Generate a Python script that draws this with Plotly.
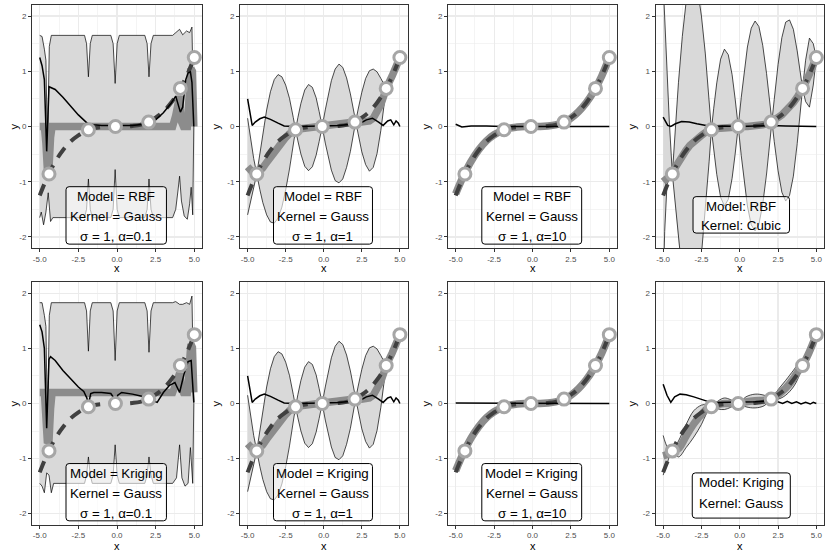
import plotly.graph_objects as go

W, H = 826, 554

# ---------------- data ----------------
PTS_X = [-4.4, -1.85, -0.1, 2.05, 4.1, 5.0]
PTS_Y = [-0.86, -0.06, 0.0, 0.08, 0.69, 1.25]

TRUE_X = [-5.0, -4.5, -4.0, -3.5, -3.0, -2.5, -2.0, -1.5, -1.0, -0.5, 0.0,
          0.5, 1.0, 1.5, 2.0, 2.5, 3.0, 3.5, 4.0, 4.5, 5.0]
TRUE_Y = [-1.25, -0.91, -0.64, -0.43, -0.27, -0.16, -0.08, -0.03, -0.01, 0.0, 0.0,
          0.0, 0.01, 0.03, 0.08, 0.16, 0.27, 0.43, 0.64, 0.91, 1.25]

# RBF, Gauss, alpha = 0.1
R01_UP_X = [-5.0, -4.85, -4.7, -4.6, -4.5, -4.38, -4.25, -2.1, -1.97, -1.85, -1.73, -1.6,
            -0.4, -0.25, -0.12, 0.01, 0.15, 1.8, 1.95, 2.07, 2.2, 2.35,
            3.6, 3.8, 4.05, 4.25, 4.5, 4.7, 4.85, 4.97]
R01_UP_Y = [1.65, 1.63, 1.4, 1.2, -0.45, 1.45, 1.65, 1.65, 1.5, 0.9, 1.5, 1.65,
            1.65, 1.5, 0.78, 1.5, 1.65, 1.65, 1.5, 0.9, 1.5, 1.65,
            1.65, 1.7, 1.76, 1.66, 1.73, 1.7, 1.8, 0.0]
R01_LO_X = [-5.0, -4.9, -4.75, -4.6, -4.45, -4.3, -4.15, -2.1, -1.97, -1.85, -1.73, -1.6,
            -0.4, -0.25, -0.12, 0.01, 0.15, 1.8, 1.95, 2.07, 2.2, 2.35,
            3.6, 3.8, 3.95, 4.05, 4.17, 4.35, 4.55, 4.7, 4.8, 4.9, 4.97]
R01_LO_Y = [-1.65, -1.55, -1.78, -1.55, -1.2, -1.72, -1.65, -1.65, -1.5, -0.95, -1.5, -1.65,
            -1.65, -1.5, -0.78, -1.5, -1.65, -1.65, -1.5, -0.95, -1.5, -1.65,
            -1.65, -1.5, -1.15, -0.9, -1.35, -1.62, -1.68, -1.4, -1.1, -1.6, 0.0]
R01_MEAN_X = [-5.0, -4.7, -4.6, -4.5, -4.4, -4.3, -4.2, -1.95, -1.85, -1.75, 3.6, 3.8,
              3.95, 4.05, 4.15, 4.3, 4.55, 4.65, 4.78, 4.88, 4.97]
R01_MEAN_Y = [0.0, 0.0, -0.3, -0.8, -0.75, -0.2, 0.0, 0.0, -0.05, 0.0, 0.0, 0.2,
              0.45, 0.55, 0.1, 0.0, 0.0, 0.6, 1.05, 1.0, 0.0]
R01_ERR_X = [-5.0, -4.85, -4.7, -4.55, -4.4, -4.25, -4.0, -3.5, -3.0, -2.5, -2.0, -1.85,
             -1.5, -1.0, 0.0, 1.0, 2.0, 2.5, 3.0, 3.5, 3.8, 3.95, 4.1, 4.25, 4.45,
             4.6, 4.75, 4.85, 4.97]
R01_ERR_Y = [1.25, 1.1, 0.85, -0.45, 0.72, 0.7, 0.67, 0.53, 0.37, 0.21, 0.08, 0.04,
             0.03, 0.02, 0.02, 0.02, 0.05, 0.12, 0.25, 0.42, 0.55, 0.4, 0.26, 0.35, 0.85,
             0.97, 0.99, 0.8, 0.0]

# Kriging, Gauss, alpha = 0.1
K01_UP_X = [-5.0, -4.85, -4.7, -4.6, -4.5, -4.38, -4.25, -2.1, -1.97, -1.85, -1.73, -1.6,
            -0.4, -0.25, -0.12, 0.01, 0.15, 1.8, 1.95, 2.07, 2.2, 2.35,
            3.6, 3.8, 4.05, 4.25, 4.5, 4.7, 4.85, 4.97]
K01_UP_Y = [1.83, 1.83, 1.6, 1.4, -0.45, 1.6, 1.83, 1.83, 1.68, 0.95, 1.68, 1.83,
            1.83, 1.68, 0.78, 1.68, 1.83, 1.83, 1.68, 0.93, 1.68, 1.83,
            1.83, 1.85, 1.8, 1.8, 1.83, 1.8, 1.95, 0.0]
K01_LO_X = [-5.0, -4.85, -4.7, -4.55, -4.4, -4.25, -4.1, -2.1, -1.97, -1.85, -1.73, -1.6,
            -0.4, -0.25, -0.12, 0.01, 0.15, 1.8, 1.95, 2.07, 2.2, 2.35,
            3.6, 3.85, 4.05, 4.2, 4.4, 4.6, 4.75, 4.9, 4.97]
K01_LO_Y = [-1.45, -1.5, -1.62, -1.26, -1.3, -1.62, -1.45, -1.45, -1.3, -0.97, -1.3, -1.45,
            -1.45, -1.3, -0.75, -1.3, -1.45, -1.45, -1.3, -0.97, -1.3, -1.45,
            -1.45, -1.35, -0.75, -1.35, -1.5, -1.45, -0.8, -1.45, 0.0]
K01_MEAN_X = [-5.0, -4.7, -4.6, -4.5, -4.4, -4.3, -4.2, -1.95, -1.85, -1.75, 3.6, 3.8,
              3.95, 4.05, 4.15, 4.3, 4.55, 4.65, 4.78, 4.88, 4.97]
K01_MEAN_Y = [0.2, 0.2, -0.25, -0.72, -0.68, -0.1, 0.2, 0.2, 0.15, 0.2, 0.2, 0.35,
              0.52, 0.55, 0.3, 0.2, 0.2, 0.65, 1.08, 1.02, 0.2]
K01_ERR_X = [-5.0, -4.85, -4.7, -4.55, -4.4, -4.3, -4.0, -3.5, -3.0, -2.5,
             -2.15, -1.95, -1.85, -1.7, -1.5, -1.0, -0.4, -0.2, -0.1, 0.05,
             0.3, 1.0, 1.6, 2.05, 2.3, 2.6, 3.0, 3.4, 3.75, 4.05,
             4.35, 4.6, 4.8, 4.97]
K01_ERR_Y = [1.43, 1.3, 1.0, -0.45, 0.8, 0.85, 0.78, 0.6, 0.45, 0.3,
             0.22, 0.1, -0.02, 0.18, 0.2, 0.2, 0.18, 0.1, 0.02, 0.15,
             0.2, 0.17, 0.13, 0.08, 0.05, 0.02, 0.2, 0.33, 0.38, 0.2,
             0.55, 0.76, 0.78, 0.02]

# Gauss, alpha = 1 (RBF and Kriging look the same)
G1_X = [-5.0, -4.8, -4.6, -4.4, -4.2, -4.0, -3.75, -3.5, -3.25, -3.0,
        -2.75, -2.5, -2.25, -2.0, -1.85, -1.7, -1.5, -1.25, -1.0, -0.75,
        -0.5, -0.3, -0.1, 0.1, 0.3, 0.5, 0.75, 1.0, 1.25, 1.5,
        1.75, 2.0, 2.1, 2.25, 2.5, 2.75, 3.0, 3.25, 3.5, 3.75,
        4.0, 4.1, 4.5, 5.0]
G1_UP = [0.15, -0.25, -0.58, -0.86, -0.5, -0.12, 0.3, 0.63, 0.85, 0.94,
         0.9, 0.75, 0.51, 0.16, -0.06, 0.16, 0.42, 0.66, 0.76, 0.71,
         0.52, 0.27, 0.0, 0.30, 0.59, 0.83, 1.04, 1.13, 1.07, 0.88,
         0.59, 0.23, 0.09, 0.30, 0.62, 0.87, 1.01, 1.04, 0.99, 0.87,
         0.74, 0.69, 0.98, 1.25]
G1_LO = [-1.6, -1.35, -1.12, -0.86, -1.14, -1.38, -1.6, -1.73, -1.75, -1.66,
         -1.46, -1.15, -0.77, -0.32, -0.06, -0.26, -0.5, -0.72, -0.8, -0.73,
         -0.52, -0.27, 0.0, -0.30, -0.57, -0.79, -0.98, -1.02, -0.95, -0.74,
         -0.45, -0.07, 0.09, -0.12, -0.46, -0.69, -0.81, -0.74, -0.49, -0.07,
         0.46, 0.69, 0.86, 1.25]
G1_MEAN = [-0.73, -0.8, -0.85, -0.86, -0.82, -0.75, -0.65, -0.55, -0.45, -0.36,
           -0.28, -0.2, -0.13, -0.08, -0.06, -0.05, -0.04, -0.03, -0.02, -0.01,
           0.0, 0.0, 0.0, 0.0, 0.01, 0.02, 0.03, 0.05, 0.06, 0.07,
           0.07, 0.08, 0.09, 0.09, 0.08, 0.09, 0.1, 0.15, 0.25, 0.4,
           0.6, 0.69, 0.92, 1.25]
G1_ERR_X = [-5.0, -4.85, -4.7, -4.5, -4.2, -3.9, -3.5, -3.0, -2.6, -2.0, -1.0, 0.0, 1.0,
            1.8, 2.4, 2.8, 3.2, 3.6, 3.9, 4.2, 4.4, 4.6, 4.75, 4.9, 5.0]
G1_ERR_Y = [0.5, 0.25, 0.02, 0.08, 0.14, 0.17, 0.13, 0.06, 0.01, 0.0, 0.0, 0.01, 0.02,
            0.05, 0.06, 0.12, 0.15, 0.08, 0.02, 0.1, 0.12, 0.03, 0.1, 0.06, 0.0]

# Gauss, alpha = 10
G10_MEAN_Y = [-1.22, -0.9, -0.63, -0.42, -0.26, -0.15, -0.08, -0.03, -0.01, 0.0, 0.0,
              0.0, 0.01, 0.03, 0.07, 0.15, 0.27, 0.43, 0.64, 0.91, 1.25]
R10_ERR_X = [-5.0, -4.8, -4.6, -4.3, -4.0, -3.0, -2.0, 0.0, 2.0, 4.0, 5.0]
R10_ERR_Y = [0.04, 0.02, -0.01, 0.0, 0.01, 0.01, 0.0, 0.0, 0.0, 0.0, 0.0]
K10_ERR_X = [-5.0, 0.0, 5.0]
K10_ERR_Y = [0.01, 0.0, 0.0]

# RBF, Cubic kernel
C_X = [-5.0, -4.9, -4.75, -4.6, -4.4, -4.2, -4.0, -3.75, -3.5, -3.25,
       -3.0, -2.75, -2.5, -2.25, -2.0, -1.85, -1.7, -1.5, -1.25, -1.0,
       -0.75, -0.5, -0.3, -0.1, 0.1, 0.3, 0.5, 0.75, 1.0, 1.25,
       1.5, 1.75, 2.0, 2.1, 2.25, 2.5, 2.75, 3.0, 3.25, 3.5,
       3.75, 4.0, 4.1, 4.3, 4.55, 4.8, 5.0]
C_UP = [2.6, 1.9, 0.95, 0.1, -0.86, -0.02, 0.8, 1.63, 2.26, 2.62,
        2.69, 2.48, 2.0, 1.33, 0.48, -0.06, 0.33, 0.79, 1.22, 1.40,
        1.30, 0.94, 0.5, 0.0, 0.53, 1.03, 1.44, 1.78, 1.91, 1.81,
        1.47, 0.96, 0.35, 0.09, 0.49, 1.12, 1.61, 1.89, 1.93, 1.76,
        1.37, 0.9, 0.69, 1.2, 1.6, 1.5, 1.25]
C_LO = [-3.0, -1.9, -1.05, -0.95, -0.86, -1.46, -2.08, -2.69, -3.12, -3.3,
        -3.23, -2.9, -2.32, -1.55, -0.64, -0.06, -0.43, -0.87, -1.28, -1.44,
        -1.32, -0.94, -0.5, 0.0, -0.53, -1.03, -1.44, -1.78, -1.89, -1.77,
        -1.41, -0.86, -0.19, 0.09, -0.27, -0.8, -1.19, -1.35, -1.25, -0.9,
        -0.31, 0.38, 0.69, 0.45, 0.35, 0.75, 1.25]
C_MEAN = [-1.0, -0.98, -0.95, -0.9, -0.86, -0.74, -0.64, -0.53, -0.43, -0.34,
          -0.27, -0.21, -0.16, -0.11, -0.08, -0.06, -0.05, -0.04, -0.03, -0.02,
          -0.01, 0.0, 0.0, 0.0, 0.0, 0.0, 0.0, 0.0, 0.01, 0.02,
          0.03, 0.05, 0.08, 0.09, 0.11, 0.16, 0.21, 0.27, 0.34, 0.43,
          0.53, 0.64, 0.69, 0.8, 0.95, 1.1, 1.25]
C_ERR_X = [-5.0, -4.85, -4.7, -4.5, -4.2, -3.8, -3.3, -2.8, -2.3, -1.85, -1.0, 0.0,
           1.0, 2.0, 3.0, 4.0, 5.0]
C_ERR_Y = [0.17, 0.1, 0.02, 0.0, 0.05, 0.09, 0.08, 0.05, 0.02, 0.0, 0.01, 0.0,
           0.01, 0.02, 0.01, 0.01, 0.0]

# Kriging, Gauss (fitted)
KG_X = [-5.0, -4.7, -4.4, -4.0, -3.5, -3.0, -2.5, -2.2, -1.85, -1.4, -1.0, -0.6,
        -0.1, 0.4, 1.0, 1.6, 2.1, 2.5, 3.0, 3.5, 3.8, 4.1, 4.5, 5.0]
KG_UP = [-0.58, -0.8, -0.86, -0.68, -0.38, -0.13, -0.03, -0.02, -0.06, 0.05, 0.1, 0.07,
         0.0, 0.12, 0.17, 0.15, 0.09, 0.25, 0.42, 0.6, 0.7, 0.69, 0.91, 1.25]
KG_LO = [-1.3, -1.05, -0.86, -0.97, -0.8, -0.61, -0.38, -0.2, -0.06, -0.1, -0.11, -0.07,
         0.0, -0.06, -0.08, -0.04, 0.09, 0.08, 0.15, 0.3, 0.45, 0.69, 0.91, 1.25]
KG_MEAN = [-0.95, -0.92, -0.86, -0.82, -0.59, -0.37, -0.2, -0.11, -0.06, -0.02, 0.0, 0.0,
           0.0, 0.03, 0.05, 0.06, 0.09, 0.16, 0.28, 0.45, 0.58, 0.69, 0.91, 1.25]
KG_ERR_X = [-5.0, -4.75, -4.5, -4.25, -3.9, -3.5, -3.0, -2.5, -2.0, -1.5, 0.0, 1.0,
            2.0, 2.4, 2.8, 3.1, 3.4, 3.7, 4.0, 4.3, 4.6, 4.8, 5.0]
KG_ERR_Y = [0.35, 0.15, 0.02, 0.12, 0.17, 0.16, 0.12, 0.07, 0.03, 0.02, 0.02, 0.03,
            0.05, 0.04, 0.0, 0.04, 0.0, 0.03, -0.01, 0.02, -0.01, 0.02, 0.0]

X_TICKS = [-5.0, -2.5, 0.0, 2.5, 5.0]
X_TICK_TEXT = ["-5.0", "-2.5", "0.0", "2.5", "5.0"]
Y_TICKS = [-2, -1, 0, 1, 2]
Y_TICK_TEXT = ["-2", "-1", "0", "1", "2"]

LABELS = [
    ["Model = RBF", "Kernel = Gauss", "σ = 1, α=0.1"],
    ["Model = RBF", "Kernel = Gauss", "σ = 1, α=1"],
    ["Model = RBF", "Kernel = Gauss", "σ = 1, α=10"],
    ["Model: RBF", "Kernel: Cubic"],
    ["Model = Kriging", "Kernel = Gauss", "σ = 1, α=0.1"],
    ["Model = Kriging", "Kernel = Gauss", "σ = 1, α=1"],
    ["Model = Kriging", "Kernel = Gauss", "σ = 1, α=10"],
    ["Model: Kriging", "Kernel: Gauss"],
]

PANELS = [
    dict(up=(R01_UP_X, R01_UP_Y), lo=(R01_LO_X, R01_LO_Y), mean=(R01_MEAN_X, R01_MEAN_Y),
         err=(R01_ERR_X, R01_ERR_Y), shape="linear"),
    dict(up=(G1_X, G1_UP), lo=(G1_X, G1_LO), mean=(G1_X, G1_MEAN),
         err=(G1_ERR_X, G1_ERR_Y), shape="linear"),
    dict(up=None, lo=None, mean=(TRUE_X, G10_MEAN_Y), err=(R10_ERR_X, R10_ERR_Y), shape="spline"),
    dict(up=(C_X, C_UP), lo=(C_X, C_LO), mean=(C_X, C_MEAN), err=(C_ERR_X, C_ERR_Y), shape="linear"),
    dict(up=(K01_UP_X, K01_UP_Y), lo=(K01_LO_X, K01_LO_Y), mean=(K01_MEAN_X, K01_MEAN_Y),
         err=(K01_ERR_X, K01_ERR_Y), shape="linear"),
    dict(up=(G1_X, G1_UP), lo=(G1_X, G1_LO), mean=(G1_X, G1_MEAN),
         err=(G1_ERR_X, G1_ERR_Y), shape="linear"),
    dict(up=None, lo=None, mean=(TRUE_X, G10_MEAN_Y), err=(K10_ERR_X, K10_ERR_Y), shape="spline"),
    dict(up=(KG_X, KG_UP), lo=(KG_X, KG_LO), mean=(KG_X, KG_MEAN), err=(KG_ERR_X, KG_ERR_Y),
         shape="spline"),
]

# ---------------- layout geometry (pixels) ----------------
PANEL_L = [32, 240, 448, 655.5]
PANEL_R = [202, 407.5, 617, 824]
ROW_T = [5, 282.3]
ROW_B = [248, 524.7]
YTITLE_X = [13, 215, 425, 631]
XTITLE_Y = [268, 546]

FONT = "Liberation Sans, Arial, Helvetica, sans-serif"
RIBBON_FILL = "#D9D9D9"
MEAN_COL = "#8C8C8C"
TRUE_COL = "#404040"
PT_LINE = "#A6A6A6"

fig = go.Figure()


def rounded_path(x0, x1, y0, y1, rx=0.2, ry=0.055):
    return (f"M {x0+rx},{y0} L {x1-rx},{y0} Q {x1},{y0} {x1},{y0+ry} "
            f"L {x1},{y1-ry} Q {x1},{y1} {x1-rx},{y1} L {x0+rx},{y1} "
            f"Q {x0},{y1} {x0},{y1-ry} L {x0},{y0+ry} Q {x0},{y0} {x0+rx},{y0} Z")


shapes = []
annotations = []
layout_axes = {}

for i, p in enumerate(PANELS):
    row, col = divmod(i, 4)
    sfx = "" if i == 0 else str(i + 1)
    xa, ya = "x" + sfx, "y" + sfx

    if p["up"] is not None:
        ux, uy = p["up"]
        lx, ly = p["lo"]
        fig.add_trace(go.Scatter(
            x=list(ux) + list(lx)[::-1], y=list(uy) + list(ly)[::-1],
            mode="lines", fill="toself", fillcolor=RIBBON_FILL,
            line=dict(width=0, shape=p["shape"]), hoverinfo="skip",
            showlegend=False, xaxis=xa, yaxis=ya))
        for ex, ey in (p["up"], p["lo"]):
            fig.add_trace(go.Scatter(
                x=ex, y=ey, mode="lines",
                line=dict(color="black", width=0.7, shape=p["shape"]),
                hoverinfo="skip", showlegend=False, xaxis=xa, yaxis=ya))

    mx, my = p["mean"]
    fig.add_trace(go.Scatter(
        x=mx, y=my, mode="lines",
        line=dict(color=MEAN_COL, width=7.5, shape=p["shape"]),
        hoverinfo="skip", showlegend=False, xaxis=xa, yaxis=ya))
    fig.add_trace(go.Scatter(
        x=TRUE_X, y=TRUE_Y, mode="lines",
        line=dict(color=TRUE_COL, width=4, dash="12px,9px", shape="spline"),
        hoverinfo="skip", showlegend=False, xaxis=xa, yaxis=ya))
    ex, ey = p["err"]
    fig.add_trace(go.Scatter(
        x=ex, y=ey, mode="lines", line=dict(color="black", width=1.5),
        hoverinfo="skip", showlegend=False, xaxis=xa, yaxis=ya))
    fig.add_trace(go.Scatter(
        x=PTS_X, y=PTS_Y, mode="markers", cliponaxis=False,
        marker=dict(size=12, color="white", line=dict(color=PT_LINE, width=3)),
        hoverinfo="skip", showlegend=False, xaxis=xa, yaxis=ya))

    # axes
    xdom = [PANEL_L[col] / W, PANEL_R[col] / W]
    ydom = [1 - ROW_B[row] / H, 1 - ROW_T[row] / H]
    common = dict(
        automargin=False,
        showgrid=True, gridcolor="#EBEBEB", gridwidth=1.1,
        zeroline=False, showline=True, mirror=True, linecolor="#333333", linewidth=1,
        ticks="outside", ticklen=3, tickwidth=1, tickcolor="#333333",
        tickfont=dict(family=FONT, size=8, color="#4D4D4D"), fixedrange=True,
    )
    layout_axes["xaxis" + sfx] = dict(
        common, domain=xdom, range=[-5.5, 5.5], anchor=ya,
        tickmode="array", tickvals=X_TICKS, ticktext=X_TICK_TEXT,
        minor=dict(tickmode="array", tickvals=[-3.75, -1.25, 1.25, 3.75], showgrid=True,
                   gridcolor="#EBEBEB", gridwidth=0.55, ticks=""))
    layout_axes["yaxis" + sfx] = dict(
        common, domain=ydom, range=[-2.2, 2.2], anchor=xa,
        tickmode="array", tickvals=Y_TICKS, ticktext=Y_TICK_TEXT,
        minor=dict(tickmode="array", tickvals=[-1.5, -0.5, 0.5, 1.5], showgrid=True,
                   gridcolor="#EBEBEB", gridwidth=0.55, ticks=""))

    # axis titles
    annotations.append(dict(
        text="x", xref="paper", yref="paper",
        x=(PANEL_L[col] + PANEL_R[col]) / 2 / W, y=1 - XTITLE_Y[row] / H,
        showarrow=False, xanchor="center", yanchor="middle",
        font=dict(family=FONT, size=11, color="black")))
    annotations.append(dict(
        text="y", xref="paper", yref="paper",
        x=YTITLE_X[col] / W, y=1 - (ROW_T[row] + ROW_B[row]) / 2 / H,
        showarrow=False, xanchor="center", yanchor="middle", textangle=-90,
        font=dict(family=FONT, size=11, color="black")))

    # label box
    lines = LABELS[i]
    if len(lines) == 3:
        bx0, bx1, by0, by1 = -3.3, 3.2, -2.13, -1.09
        ly = [-1.27, -1.63, -1.99]
        tx = -0.05
    elif row == 0:
        bx0, bx1, by0, by1 = -3.05, 3.25, -1.93, -1.27
        ly = [-1.45, -1.80]
        tx = 0.1
    else:
        bx0, bx1, by0, by1 = -3.1, 3.3, -2.08, -1.26
        ly = [-1.43, -1.81]
        tx = 0.1
    shapes.append(dict(
        type="path", xref=xa, yref=ya, layer="above",
        path=rounded_path(bx0, bx1, by0, by1),
        fillcolor="rgba(255,255,255,0.6)", line=dict(color="black", width=1)))
    for t, yy in zip(lines, ly):
        annotations.append(dict(
            text=t, xref=xa, yref=ya, x=tx, y=yy, showarrow=False,
            xanchor="center", yanchor="middle",
            font=dict(family=FONT, size=13.3, color="black")))

fig.update_layout(
    width=W, height=H, autosize=False,
    margin=dict(l=0, r=0, t=0, b=0, pad=0),
    paper_bgcolor="white", plot_bgcolor="white",
    showlegend=False, shapes=shapes, annotations=annotations,
    **layout_axes,
)

fig.write_html(
    "out.html",
    config={"displayModeBar": False, "staticPlot": True},
    post_script="document.body.style.margin='0';document.body.style.padding='0';"
                "document.body.style.overflow='hidden';"
                "document.documentElement.style.overflow='hidden';",
)
